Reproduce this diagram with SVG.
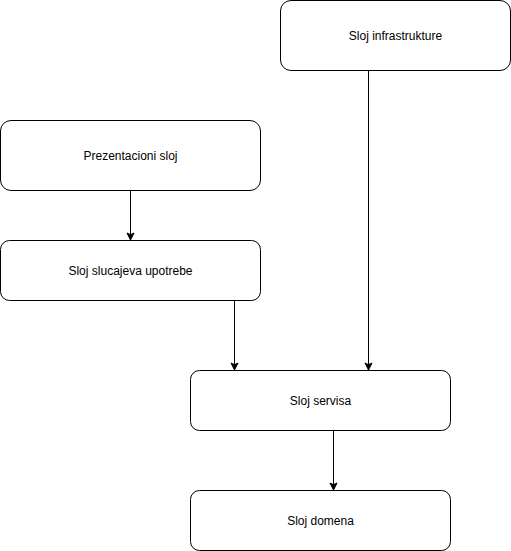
<svg xmlns="http://www.w3.org/2000/svg" width="511" height="551" viewBox="0 0 511 551">
<style>
.node rect{fill:#fff;stroke:#000;stroke-width:1}
.node text{font-family:"Liberation Sans",Arial,sans-serif;font-size:12px;fill:#000;text-anchor:middle;dominant-baseline:central}
.edge{fill:none;stroke:#000;stroke-width:1}
</style>
<defs>
<marker id="arr" markerUnits="userSpaceOnUse" markerWidth="10" markerHeight="10" viewBox="0 0 10 10" refX="8" refY="5" orient="auto">
<path d="M1,1.5 L8,5 L1,8.5 L2.7,5 Z" fill="#000" stroke="#000" stroke-width="1"/>
</marker>
</defs>
<rect width="511" height="551" fill="#fff"/>
<g id="connectors">
<path class="edge" d="M130.5,190.5 V240" marker-end="url(#arr)"/>
<path class="edge" d="M234.5,300.5 V370" marker-end="url(#arr)"/>
<path class="edge" d="M368.5,70.5 V370" marker-end="url(#arr)"/>
<path class="edge" d="M333.5,430.5 V490" marker-end="url(#arr)"/>
</g>
<g id="infra" class="node"><rect x="280.5" y="0.5" width="230" height="70" rx="10.5"/><text x="395.5" y="35.5">Sloj infrastrukture</text></g>
<g id="prez" class="node"><rect x="0.5" y="120.5" width="260" height="70" rx="10.5"/><text x="130.5" y="155.5">Prezentacioni sloj</text></g>
<g id="uc" class="node"><rect x="0.5" y="240.5" width="260" height="60" rx="9"/><text x="130.5" y="270.5">Sloj slucajeva upotrebe</text></g>
<g id="serv" class="node"><rect x="190.5" y="370.5" width="260" height="60" rx="9"/><text x="320.5" y="400.5">Sloj servisa</text></g>
<g id="dom" class="node"><rect x="190.5" y="490.5" width="260" height="60" rx="9"/><text x="320.5" y="520.5">Sloj domena</text></g>
</svg>
